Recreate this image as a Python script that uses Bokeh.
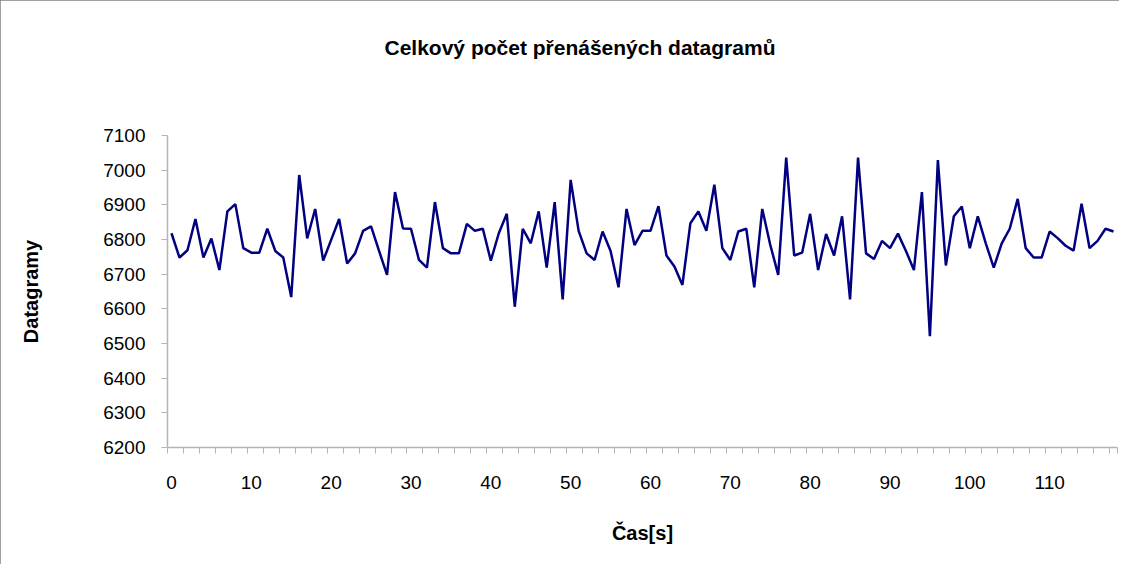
from bokeh.plotting import figure
from bokeh.models import Range1d, FixedTicker, LinearAxis
from bokeh.embed import file_html
from bokeh.resources import INLINE

# Data
time_s = list(range(119))
datagrams = [
    6818, 6748, 6769, 6859, 6748, 6803, 6712, 6881, 6902, 6775,
    6762, 6762, 6831, 6767, 6748, 6634, 6986, 6803, 6888, 6739,
    6799, 6859, 6731, 6760, 6825, 6838, 6767, 6698, 6937, 6832,
    6831, 6741, 6719, 6908, 6775, 6760, 6760, 6845, 6825, 6831,
    6739, 6818, 6874, 6606, 6831, 6789, 6881, 6719, 6908, 6627,
    6972, 6825, 6760, 6741, 6823, 6767, 6662, 6888, 6784, 6825,
    6825, 6896, 6754, 6722, 6669, 6847, 6881, 6825, 6958, 6775,
    6741, 6823, 6831, 6662, 6888, 6785, 6698, 7036, 6754, 6762,
    6874, 6712, 6816, 6754, 6867, 6627, 7036, 6760, 6744, 6796,
    6775, 6817, 6767, 6712, 6937, 6521, 7029, 6725, 6867, 6895,
    6775, 6867, 6789, 6719, 6789, 6831, 6917, 6775, 6748, 6748,
    6823, 6804, 6782, 6768, 6903, 6775, 6796, 6831, 6823,
]
y_ticks = [6200, 6300, 6400, 6500, 6600, 6700, 6800, 6900, 7000, 7100]
x_label_ticks = [0, 10, 20, 30, 40, 50, 60, 70, 80, 90, 100, 110]

title_text = "Celkový počet přenášených datagramů"
x_title = "Čas[s]"
y_title = "Datagramy"

FONT = "Liberation Sans"
AXIS_COLOR = "#b4b4b4"

p = figure(
    width=1119, height=564,
    output_backend="svg", toolbar_location=None,
    x_range=Range1d(-0.5, len(time_s) - 0.5),
    y_range=Range1d(y_ticks[0], y_ticks[-1]),
    min_border_left=167, min_border_right=2,
    min_border_top=135, min_border_bottom=117,
    title=title_text,
)
p.styles = {"outline": "1px solid #808080", "outline-offset": "-1px"}

xa = p.below[0]
ya = p.left[0]

p.line(time_s, datagrams, line_color="#000080", line_width=2.5)

p.outline_line_color = None
p.xgrid.visible = False
p.ygrid.visible = False
p.background_fill_color = "white"
p.border_fill_color = "white"

# Invisible spacer axis between the title and the plot area
spacer_tick = x_label_ticks[0]
spacer = LinearAxis(ticker=FixedTicker(ticks=[spacer_tick]), axis_line_color=None,
                    major_tick_line_color=None, minor_tick_line_color=None,
                    major_tick_out=72, major_tick_in=0, minor_tick_out=0,
                    major_label_overrides={spacer_tick: ""},
                    major_label_standoff=0)
p.add_layout(spacer, "above")

# Title
p.title.text_font = FONT
p.title.text_font_size = "21px"
p.title.text_font_style = "bold"
p.title.text_color = "black"
p.title.align = "left"
p.title.offset = 217
p.title.standoff = 10

# X axis
minor = [i - 0.5 for i in time_s[::2]] + [len(time_s) - 0.5]
xa.ticker = FixedTicker(ticks=x_label_ticks, minor_ticks=minor)
xa.axis_line_color = AXIS_COLOR
xa.axis_line_width = 1.5
xa.major_tick_line_color = None
xa.major_tick_out = 0
xa.major_tick_in = 0
xa.minor_tick_line_color = AXIS_COLOR
xa.minor_tick_out = 6
xa.minor_tick_in = 0
xa.major_label_text_font = FONT
xa.major_label_text_font_size = "19px"
xa.major_label_text_color = "black"
xa.major_label_standoff = 22
xa.axis_label = x_title
xa.axis_label_text_font = FONT
xa.axis_label_text_font_size = "20px"
xa.axis_label_text_font_style = "bold"
xa.axis_label_text_color = "black"
xa.axis_label_standoff = 30

# Y axis
ya.ticker = FixedTicker(ticks=y_ticks)
ya.axis_line_color = AXIS_COLOR
ya.axis_line_width = 1.5
ya.major_tick_line_color = AXIS_COLOR
ya.major_tick_out = 6
ya.major_tick_in = 0
ya.minor_tick_line_color = None
ya.major_label_text_font = FONT
ya.major_label_text_font_size = "19px"
ya.major_label_text_color = "black"
ya.major_label_standoff = 16
ya.axis_label = y_title
ya.axis_label_text_font = FONT
ya.axis_label_text_font_size = "20px"
ya.axis_label_text_font_style = "bold"
ya.axis_label_text_color = "black"
ya.axis_label_standoff = 58

open("out.html", "w").write(file_html(p, INLINE))
